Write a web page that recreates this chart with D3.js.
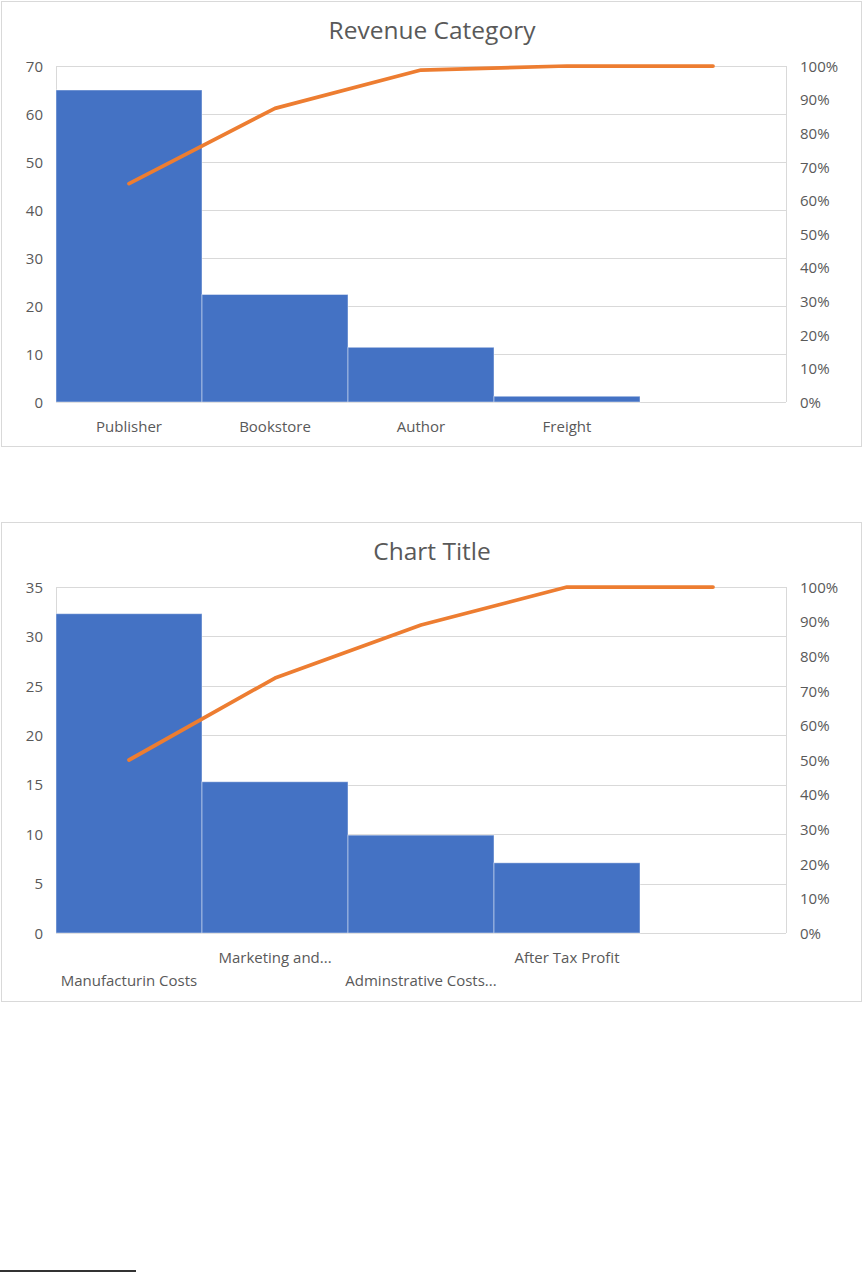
<!DOCTYPE html>
<html>
<head>
<meta charset="utf-8">
<script src="https://cdn.jsdelivr.net/npm/d3@7"></script>
<style>
  html, body { margin: 0; padding: 0; background: #ffffff; }
  svg { display: block; }
  text { font-family: "Open Sans", "Liberation Sans", sans-serif; fill: #595959; }
</style>
</head>
<body>
<svg id="page" width="864" height="1272"></svg>
<script>
// ---- Chart 1 data ----
const revenueTitle = "Revenue Category";
const revenueCategories = ["Publisher", "Bookstore", "Author", "Freight", ""];
const revenueValues = [65, 22.4, 11.4, 1.2, 0];
const revenueLeftTicks = [0, 10, 20, 30, 40, 50, 60, 70];

// ---- Chart 2 data ----
const costTitle = "Chart Title";
const costCategories = ["Manufacturin Costs", "Marketing and...", "Adminstrative Costs...", "After Tax Profit", ""];
const costValues = [32.3, 15.3, 9.9, 7.1, 0];
const costLeftTicks = [0, 5, 10, 15, 20, 25, 30, 35];

// ---- shared right axis ticks ----
const percentTicks = [0, 0.1, 0.2, 0.3, 0.4, 0.5, 0.6, 0.7, 0.8, 0.9, 1.0];

const svg = d3.select("#page");

function drawPareto(cfg) {
  const g = svg.append("g");
  // outer chart box
  g.append("rect")
    .attr("x", cfg.box.x + 0.5).attr("y", cfg.box.y + 0.5)
    .attr("width", cfg.box.w).attr("height", cfg.box.h)
    .attr("fill", "#ffffff").attr("stroke", "#d9d9d9").attr("stroke-width", 1);

  // title
  g.append("text")
    .attr("x", 432).attr("y", cfg.titleY)
    .attr("text-anchor", "middle").attr("dominant-baseline", "central")
    .style("font-size", "24.5px")
    .text(cfg.title);

  const x = d3.scaleBand()
    .domain(cfg.categories.map((d, i) => i))
    .range([cfg.plot.left, cfg.plot.right])
    .paddingInner(0).paddingOuter(0);

  const yMax = cfg.leftTicks[cfg.leftTicks.length - 1];
  const y = d3.scaleLinear().domain([0, yMax]).range([cfg.plot.bottom, cfg.plot.top]);
  const yp = d3.scaleLinear().domain([0, 1]).range([cfg.plot.bottom, cfg.plot.top]);

  // gridlines
  g.append("g").selectAll("line").data(cfg.leftTicks).join("line")
    .attr("x1", cfg.plot.left).attr("x2", cfg.plot.right)
    .attr("y1", d => Math.round(y(d)) + 0.5).attr("y2", d => Math.round(y(d)) + 0.5)
    .attr("stroke", "#d9d9d9").attr("stroke-width", 1);

  // plot frame verticals
  g.append("line")
    .attr("x1", cfg.plot.left + 0.5).attr("x2", cfg.plot.left + 0.5)
    .attr("y1", cfg.plot.top).attr("y2", cfg.plot.bottom)
    .attr("stroke", "#d9d9d9");
  g.append("line")
    .attr("x1", cfg.plot.right + 0.5).attr("x2", cfg.plot.right + 0.5)
    .attr("y1", cfg.plot.top).attr("y2", cfg.plot.bottom)
    .attr("stroke", "#d9d9d9");

  // bars
  g.append("g").selectAll("rect").data(cfg.values).join("rect")
    .attr("x", (d, i) => x(i))
    .attr("width", x.bandwidth())
    .attr("y", d => y(d))
    .attr("height", d => y(0) - y(d))
    .attr("fill", "#4472c4")
    .attr("stroke", "#ffffff").attr("stroke-opacity", 0.45).attr("stroke-width", 1)
    .style("display", d => d > 0 ? null : "none");

  // cumulative percentage line
  const total = d3.sum(cfg.values);
  const cum = d3.cumsum(cfg.values).map(v => v / total);
  const line = d3.line()
    .x((d, i) => x(i) + x.bandwidth() / 2)
    .y(d => yp(d));
  g.append("path")
    .datum(cum)
    .attr("d", line)
    .attr("fill", "none")
    .attr("stroke", "#ed7d31").attr("stroke-width", 3.75)
    .attr("stroke-linecap", "round").attr("stroke-linejoin", "round");

  // left axis
  const leftAxis = d3.axisLeft(y).tickValues(cfg.leftTicks).tickSize(0).tickPadding(0).tickFormat(d3.format("d"));
  const la = g.append("g").attr("transform", `translate(${cfg.plot.left - 13},0)`).call(leftAxis);
  la.select(".domain").remove();
  la.selectAll("text").style("font-size", "15px").attr("fill", "#595959").attr("dy", "0.35em").attr("x", 0);

  // right axis
  const rightAxis = d3.axisRight(yp).tickValues(percentTicks).tickSize(0).tickPadding(0).tickFormat(d3.format(".0%"));
  const ra = g.append("g").attr("transform", `translate(${cfg.plot.right + 14},0)`).call(rightAxis);
  ra.select(".domain").remove();
  ra.selectAll("text").style("font-size", "15px").attr("fill", "#595959").attr("dy", "0.35em").attr("x", 0);

  // bottom axis (category labels)
  const bottomAxis = d3.axisBottom(x).tickSize(0).tickPadding(0).tickFormat(i => cfg.categories[i]);
  const ba = g.append("g").attr("transform", `translate(0,${cfg.plot.bottom})`).call(bottomAxis);
  ba.select(".domain").remove();
  ba.selectAll("text").style("font-size", "15px").attr("fill", "#595959")
    .attr("dy", "0.35em")
    .attr("y", (d, i) => cfg.labelOffset(i));
}

drawPareto({
  title: revenueTitle,
  categories: revenueCategories,
  values: revenueValues,
  leftTicks: revenueLeftTicks,
  box: { x: 1, y: 1, w: 860, h: 445 },
  titleY: 29,
  plot: { left: 56, right: 786, top: 66, bottom: 402 },
  labelOffset: i => 25
});

drawPareto({
  title: costTitle,
  categories: costCategories,
  values: costValues,
  leftTicks: costLeftTicks,
  box: { x: 1, y: 522, w: 860, h: 479 },
  titleY: 550,
  plot: { left: 56, right: 786, top: 587, bottom: 933 },
  labelOffset: i => (i % 2 === 0 ? 48 : 25)
});

// footnote separator line
svg.append("rect").attr("x", 0).attr("y", 1270).attr("width", 136).attr("height", 2).attr("fill", "#333333");
</script>
</body>
</html>
